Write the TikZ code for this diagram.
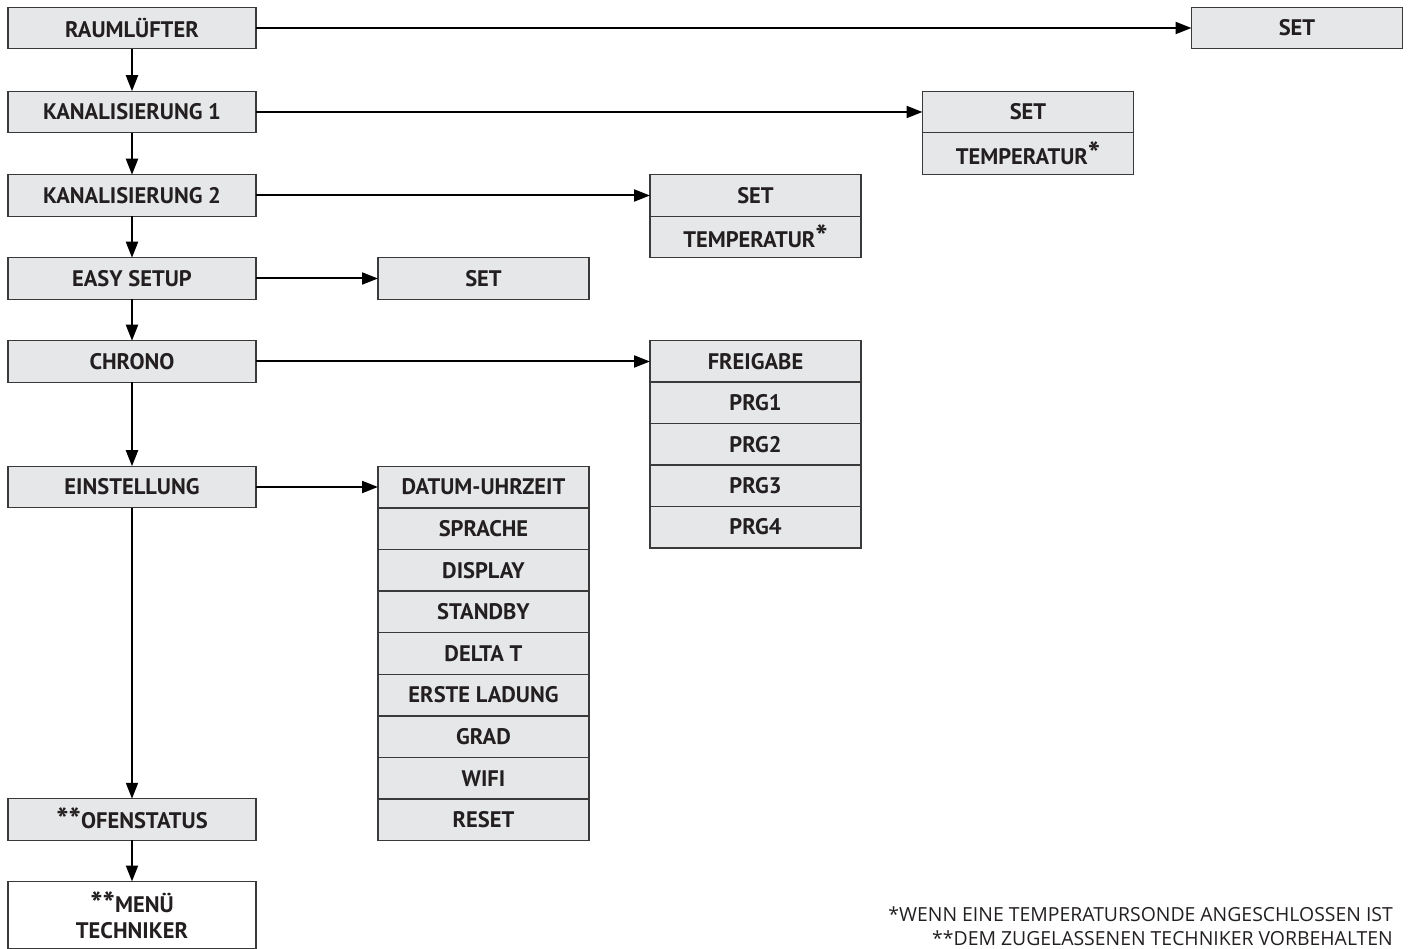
\documentclass[tikz,border=0pt]{standalone}
\usepackage{fontspec}
\setmainfont{PT Sans}
\newfontfamily\notefont{Open Sans}
\usetikzlibrary{arrows.meta,positioning}
\definecolor{mnuFill}{HTML}{E6E7E8}
\definecolor{mnuLine}{HTML}{3A3A3A}
\definecolor{mnuText}{HTML}{231F20}
\newcommand{\mnuStar}{\raisebox{-3pt}{\scalebox{1.45}{*}}}
\tikzset{
  mnu box/.style={draw=mnuLine, fill=mnuFill, line width=1.3pt, minimum height=41.5pt, inner sep=0pt, outer sep=0pt, font=\fontsize{22.5}{26}\selectfont\bfseries, text=mnuText},
  mnu main/.style={mnu box, minimum width=248pt},
  mnu sub/.style={mnu box, minimum width=211pt},
  mnu arrow/.style={draw=black, line width=2pt, -{Triangle[length=16pt,width=12pt]}},
  mnu note/.style={font=\notefont\fontsize{19.4}{24.3}\selectfont, text=mnuText, align=right, inner sep=0pt},
}

\begin{document}
\begin{tikzpicture}[x=1pt,y=-1pt]
  \useasboundingbox (0,0) rectangle (1409,949);

  % left column
  \node[mnu main] (raum) at (132,28) {RAUMLÜFTER};
  \node[mnu main] (kan1) at (132,112) {KANALISIERUNG 1};
  \node[mnu main] (kan2) at (132,195.5) {KANALISIERUNG 2};
  \node[mnu main] (easy) at (132,278.5) {EASY SETUP};
  \node[mnu main] (chrono) at (132,361.5) {CHRONO};
  \node[mnu main] (einst) at (132,487) {EINSTELLUNG};
  \node[mnu main] (ofen) at (132,819.5) {\mnuStar\mnuStar OFENSTATUS};
  \node[mnu main, fill=white, minimum height=67pt, align=center] (techn) at (132,915) {\mnuStar\mnuStar MENÜ\\TECHNIKER};

  % sub menus
  \node[mnu sub] (raumset) at (1297,28) {SET};
  \node[mnu sub] (kan1set) at (1028,112) {SET};
  \node[mnu sub] (kan1temp) at (1028,153.5) {TEMPERATUR\raisebox{2pt}{\mnuStar}};
  \node[mnu sub] (kan2set) at (755.5,195.5) {SET};
  \node[mnu sub] (kan2temp) at (755.5,237) {TEMPERATUR\raisebox{2pt}{\mnuStar}};
  \node[mnu sub] (easyset) at (483.5,278.5) {SET};
  \foreach \txt [count=\i from 0] in {FREIGABE,PRG1,PRG2,PRG3,PRG4}
    \node[mnu sub] (chr\i) at (755.5,361.5+41.4*\i) {\txt};
  \foreach \txt [count=\i from 0] in {DATUM-UHRZEIT,SPRACHE,DISPLAY,STANDBY,DELTA T,ERSTE LADUNG,GRAD,WIFI,RESET}
    \node[mnu sub] (ein\i) at (483.5,487+41.6*\i) {\txt};

  % arrows down
  \draw[mnu arrow] (raum) -- (kan1);
  \draw[mnu arrow] (kan1) -- (kan2);
  \draw[mnu arrow] (kan2) -- (easy);
  \draw[mnu arrow] (easy) -- (chrono);
  \draw[mnu arrow] (chrono) -- (einst);
  \draw[mnu arrow] (einst) -- (ofen);
  \draw[mnu arrow] (ofen) -- (techn);

  % arrows right
  \draw[mnu arrow] (raum) -- (raumset);
  \draw[mnu arrow] (kan1) -- (kan1set);
  \draw[mnu arrow] (kan2) -- (kan2set);
  \draw[mnu arrow] (easy) -- (easyset);
  \draw[mnu arrow] (chrono) -- (chr0);
  \draw[mnu arrow] (einst) -- (ein0);

  % footnotes
  \node[mnu note, anchor=south east] (notes) at (1393,946) {*WENN EINE TEMPERATURSONDE ANGESCHLOSSEN IST\\**DEM ZUGELASSENEN TECHNIKER VORBEHALTEN};
\end{tikzpicture}
\end{document}
